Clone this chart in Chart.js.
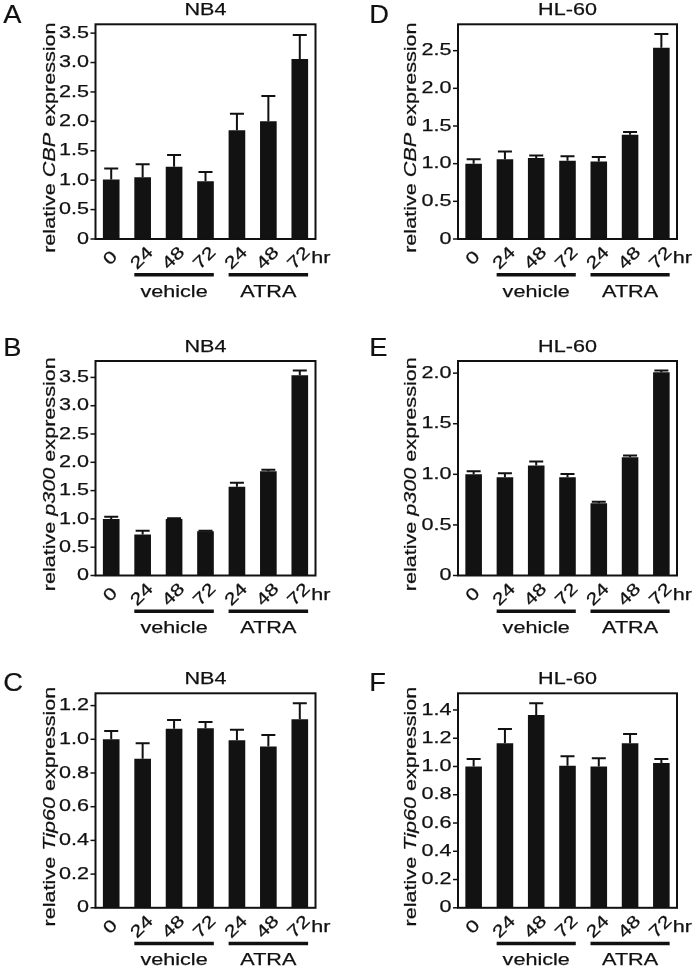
<!DOCTYPE html>
<html><head><meta charset="utf-8">
<script src="https://cdn.jsdelivr.net/npm/chart.js@4.4.1/dist/chart.umd.min.js"></script>
<style>
html,body{margin:0;padding:0;background:#fff;}
#wrap{position:relative;width:693px;height:967px;overflow:hidden;background:#fff;}
#wrap canvas{position:absolute;}
</style></head><body><div id="wrap"></div>
<script>
// ---------- data ----------
const categories = ['0', '24', '48', '72', '24', '48', '72'];
const timeUnit = 'hr';
const groupNames = ['vehicle', 'ATRA'];
const groupRanges = [[1, 3], [4, 6]];

const cbpNB4Mean = [1.01, 1.05, 1.23, 0.98, 1.85, 2.00, 3.06];
const cbpNB4Err  = [0.19, 0.22, 0.20, 0.16, 0.28, 0.43, 0.41];
const cbpHL60Mean = [1.00, 1.06, 1.075, 1.04, 1.03, 1.385, 2.54];
const cbpHL60Err  = [0.06, 0.10, 0.035, 0.06, 0.06, 0.035, 0.18];

const p300NB4Mean = [1.00, 0.725, 1.00, 0.78, 1.57, 1.84, 3.54];
const p300NB4Err  = [0.04, 0.065, 0.012, 0.012, 0.07, 0.03, 0.08];
const p300HL60Mean = [1.00, 0.97, 1.086, 0.97, 0.713, 1.168, 2.01];
const p300HL60Err  = [0.03, 0.04, 0.04, 0.033, 0.017, 0.017, 0.016];

const tip60NB4Mean = [1.00, 0.884, 1.062, 1.066, 0.994, 0.957, 1.119];
const tip60NB4Err  = [0.05, 0.093, 0.053, 0.037, 0.062, 0.069, 0.095];
const tip60HL60Mean = [1.00, 1.164, 1.365, 1.006, 1.00, 1.164, 1.025];
const tip60HL60Err  = [0.053, 0.102, 0.082, 0.066, 0.058, 0.066, 0.028];

const ticksCbpNB4 = [0, 0.5, 1.0, 1.5, 2.0, 2.5, 3.0, 3.5];
const ticksCbpHL60 = [0, 0.5, 1.0, 1.5, 2.0, 2.5];
const ticksP300NB4 = [0, 0.5, 1.0, 1.5, 2.0, 2.5, 3.0, 3.5];
const ticksP300HL60 = [0, 0.5, 1.0, 1.5, 2.0];
const ticksTip60NB4 = [0, 0.2, 0.4, 0.6, 0.8, 1.0, 1.2];
const ticksTip60HL60 = [0, 0.2, 0.4, 0.6, 0.8, 1.0, 1.2, 1.4];

const maxCbpNB4 = 3.65, maxCbpHL60 = 2.85, maxP300NB4 = 3.79, maxP300HL60 = 2.12, maxTip60NB4 = 1.273, maxTip60HL60 = 1.518;

// ---------- layout ----------
const FAMILY = '"Liberation Sans", Arial, Helvetica, sans-serif';
const FS = 17;
const SX = 1.27;
const STROKE = 0.25;
const cols = [
  {x: 0, w: 346, L: 95.5, R: 315.5, letterX: 3.3, ytitleX: 54.5},
  {x: 346, w: 347, L: 458, R: 677, letterX: 369.3, ytitleX: 415.5}
];
const rows = [
  {y: 0, h: 320, T: 24.3, B: 239, letterY: 23},
  {y: 320, h: 320, T: 361, B: 575.5, letterY: 356},
  {y: 640, h: 327, T: 693.3, B: 907.8, letterY: 690.5}
];

const panels = [
  {letter: 'A', title: 'NB4',   gene: 'CBP',   mean: cbpNB4Mean,   err: cbpNB4Err,   ticks: ticksCbpNB4,   max: maxCbpNB4,   col: 0, row: 0},
  {letter: 'D', title: 'HL-60', gene: 'CBP',   mean: cbpHL60Mean,  err: cbpHL60Err,  ticks: ticksCbpHL60,  max: maxCbpHL60,  col: 1, row: 0},
  {letter: 'B', title: 'NB4',   gene: 'p300',  mean: p300NB4Mean,  err: p300NB4Err,  ticks: ticksP300NB4,  max: maxP300NB4,  col: 0, row: 1},
  {letter: 'E', title: 'HL-60', gene: 'p300',  mean: p300HL60Mean, err: p300HL60Err, ticks: ticksP300HL60, max: maxP300HL60, col: 1, row: 1},
  {letter: 'C', title: 'NB4',   gene: 'Tip60', mean: tip60NB4Mean, err: tip60NB4Err, ticks: ticksTip60NB4, max: maxTip60NB4, col: 0, row: 2},
  {letter: 'F', title: 'HL-60', gene: 'Tip60', mean: tip60HL60Mean,err: tip60HL60Err,ticks: ticksTip60HL60,max: maxTip60HL60,col: 1, row: 2}
];

function fontOf(italic, size) {
  return (italic ? 'italic ' : '') + (size || FS) + 'px ' + FAMILY;
}

function txt(ctx, s, x, y, o) {
  ctx.save();
  ctx.translate(x, y);
  if (o.rot) ctx.rotate(o.rot);
  ctx.scale(o.sx || SX, 1);
  ctx.font = fontOf(o.italic, o.size);
  ctx.textAlign = o.align || 'left';
  ctx.textBaseline = o.baseline || 'alphabetic';
  ctx.fillStyle = '#111';
  ctx.strokeStyle = '#111';
  ctx.lineWidth = o.stroke === undefined ? STROKE : o.stroke;
  ctx.lineJoin = 'round';
  ctx.fillText(s, 0, 0);
  if (ctx.lineWidth > 0) ctx.strokeText(s, 0, 0);
  ctx.restore();
}

function makePlugin(p, col, row) {
  return {
    id: 'panelDecor' + p.letter,
    afterDraw(chart) {
      const ctx = chart.ctx, ca = chart.chartArea, ys = chart.scales.y;
      const meta = chart.getDatasetMeta(0);
      ctx.save();
      ctx.strokeStyle = '#111';
      ctx.lineCap = 'butt';
      // error bars (upper)
      ctx.lineWidth = 2;
      meta.data.forEach((bar, i) => {
        const yt = ys.getPixelForValue(p.mean[i] + p.err[i]);
        ctx.beginPath();
        ctx.moveTo(bar.x, bar.y);
        ctx.lineTo(bar.x, yt);
        ctx.moveTo(bar.x - 7, yt);
        ctx.lineTo(bar.x + 7, yt);
        ctx.stroke();
      });
      // frame
      ctx.lineWidth = 2;
      ctx.strokeRect(ca.left, ca.top, ca.right - ca.left, ca.bottom - ca.top);
      // y ticks
      ctx.lineWidth = 1.5;
      p.ticks.forEach(v => {
        const y = ys.getPixelForValue(v);
        ctx.beginPath();
        ctx.moveTo(ca.left - 5, y);
        ctx.lineTo(ca.left, y);
        ctx.stroke();
        txt(ctx, v === 0 ? '0' : v.toFixed(1), ca.left - 6.5, y, {align: 'right', baseline: 'middle'});
      });
      // x labels (rotated 45deg, centred under bars)
      meta.data.forEach((bar, i) => {
        txt(ctx, categories[i], bar.x - 0.5, ca.bottom + 19.5, {rot: -Math.PI / 4, align: 'center', baseline: 'middle'});
      });
      const last = meta.data[meta.data.length - 1];
      txt(ctx, timeUnit, last.x + 11.5, ca.bottom + 24, {align: 'left'});
      // groups
      ctx.lineWidth = 3.5;
      groupRanges.forEach((g, k) => {
        const a = meta.data[g[0]], b = meta.data[g[1]];
        const x1 = a.x - a.width / 2, x2 = b.x + b.width / 2;
        ctx.beginPath();
        ctx.moveTo(x1, ca.bottom + 35.7);
        ctx.lineTo(x2, ca.bottom + 35.7);
        ctx.stroke();
        txt(ctx, groupNames[k], (x1 + x2) / 2, ca.bottom + 57.5, {align: 'center'});
      });
      // title
      txt(ctx, p.title, (ca.left + ca.right) / 2, ca.top - 9, {align: 'center'});
      // panel letter
      txt(ctx, p.letter, col.letterX - col.x, row.letterY - row.y, {size: 26, sx: 1.05, stroke: 0.2});
      // y title (mixed italic)
      const segs = [['relative ', false], [p.gene, true], [' expression', false]];
      ctx.save();
      let total = 0;
      const widths = segs.map(s => {
        ctx.font = fontOf(s[1]);
        const w = ctx.measureText(s[0]).width;
        total += w;
        return w;
      });
      ctx.translate(col.ytitleX - col.x, (ca.top + ca.bottom) / 2 + 6);
      ctx.rotate(-Math.PI / 2);
      ctx.scale(SX, 1);
      ctx.fillStyle = '#111';
      ctx.strokeStyle = '#111';
      ctx.lineWidth = STROKE;
      ctx.lineJoin = 'round';
      ctx.textAlign = 'left';
      ctx.textBaseline = 'alphabetic';
      let x = -total / 2;
      segs.forEach((s, k) => {
        ctx.font = fontOf(s[1]);
        ctx.fillText(s[0], x, 0);
        ctx.strokeText(s[0], x, 0);
        x += widths[k];
      });
      ctx.restore();
      ctx.restore();
    }
  };
}

const wrap = document.getElementById('wrap');
panels.forEach(p => {
  const col = cols[p.col], row = rows[p.row];
  const cv = document.createElement('canvas');
  cv.width = col.w; cv.height = row.h;
  cv.style.left = col.x + 'px'; cv.style.top = row.y + 'px';
  cv.style.width = col.w + 'px'; cv.style.height = row.h + 'px';
  wrap.appendChild(cv);
  new Chart(cv, {
    type: 'bar',
    data: {
      labels: categories,
      datasets: [{data: p.mean, backgroundColor: '#121212', borderWidth: 0, barPercentage: 0.53, categoryPercentage: 1}]
    },
    options: {
      responsive: false,
      animation: false,
      devicePixelRatio: 1,
      events: [],
      layout: {padding: {left: col.L - col.x, right: col.x + col.w - col.R, top: row.T - row.y, bottom: row.y + row.h - row.B}},
      plugins: {legend: {display: false}, title: {display: false}, tooltip: {enabled: false}},
      scales: {
        x: {display: false},
        y: {display: false, min: 0, max: p.max}
      }
    },
    plugins: [makePlugin(p, col, row)]
  });
});
</script>
</body></html>
